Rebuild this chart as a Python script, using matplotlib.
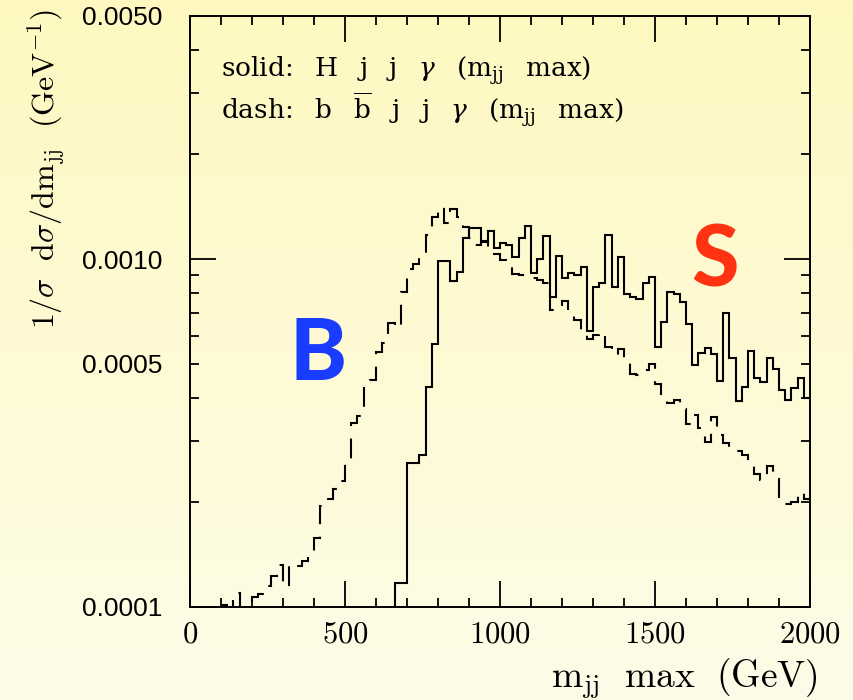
import numpy as np
import matplotlib
matplotlib.use('Agg')
import matplotlib.pyplot as plt
from matplotlib.ticker import FixedLocator, LogLocator, FuncFormatter, MultipleLocator
from matplotlib.colors import LinearSegmentedColormap

plt.rcParams['mathtext.fontset'] = 'cm'
plt.rcParams['font.family'] = ['Liberation Sans', 'DejaVu Sans']

# 20 GeV bins from 0 to 2000 GeV
edges = np.arange(0, 2001, 20)

# solid: H j j gamma  (1/sigma dsigma/dm_jj, GeV^-1), one value per bin
signal = [0] * 33 + [
    1.17e-4, 1.17e-4, 2.60e-4, 2.60e-4, 2.73e-4, 4.29e-4, 5.71e-4,
    9.89e-4, 9.89e-4, 8.66e-4, 9.21e-4, 1.149e-3, 1.23e-3, 1.23e-3, 1.124e-3, 1.207e-3, 1.08e-3,
    1.112e-3, 1.10e-3, 1.013e-3, 1.154e-3, 1.247e-3, 9.11e-4, 1.0e-3, 1.167e-3, 7.80e-4, 1.022e-3,
    8.85e-4, 9.11e-4, 9.01e-4, 9.52e-4, 6.21e-4, 8.34e-4, 8.53e-4, 1.17e-3, 8.34e-4, 1.011e-3,
    7.93e-4, 7.80e-4, 7.68e-4, 8.56e-4, 8.87e-4, 5.60e-4, 6.61e-4, 8.07e-4, 7.93e-4, 7.52e-4,
    6.49e-4, 4.96e-4, 5.36e-4, 5.56e-4, 5.32e-4, 4.46e-4, 7.01e-4, 5.19e-4, 3.90e-4, 4.29e-4,
    5.44e-4, 4.56e-4, 4.44e-4, 5.19e-4, 4.83e-4, 4.20e-4, 3.93e-4, 4.26e-4, 4.54e-4, 3.99e-4,
]

# dash: b bbar j j gamma
background = [0] * 5 + [
    1.01e-4, 9.0e-5, 1.10e-4, 9.0e-5, 9.5e-5, 1.07e-4, 1.09e-4, 1.15e-4, 1.23e-4, 1.32e-4,
    1.14e-4, 1.33e-4, 1.31e-4, 1.36e-4, 1.42e-4, 1.58e-4, 1.95e-4, 2.05e-4, 2.18e-4, 2.31e-4,
    2.67e-4, 3.38e-4, 3.55e-4, 4.25e-4, 4.49e-4, 5.42e-4, 5.73e-4, 6.54e-4, 6.33e-4, 8.04e-4,
    9.36e-4, 9.70e-4, 1.015e-3, 1.175e-3, 1.32e-3, 1.41e-3, 1.27e-3, 1.39e-3, 1.32e-3, 1.233e-3,
    1.15e-3, 1.10e-3, 1.12e-3, 1.07e-3, 1.034e-3, 9.95e-4, 9.58e-4, 9.05e-4, 9.0e-4, 8.9e-4,
    8.85e-4, 8.72e-4, 8.53e-4, 7.14e-4, 7.38e-4, 7.6e-4, 7.0e-4, 6.68e-4, 6.25e-4, 5.88e-4,
    6.05e-4, 6.18e-4, 5.6e-4, 5.3e-4, 5.53e-4, 5.07e-4, 4.69e-4, 4.64e-4, 4.8e-4, 4.98e-4,
    4.39e-4, 3.96e-4, 3.86e-4, 3.93e-4, 3.72e-4, 3.35e-4, 3.56e-4, 3.26e-4, 2.98e-4, 3.52e-4,
    3.12e-4, 2.96e-4, 2.87e-4, 2.80e-4, 2.73e-4, 2.59e-4, 2.41e-4, 2.32e-4, 2.54e-4, 2.33e-4,
    1.98e-4, 1.98e-4, 2.0e-4, 2.14e-4, 2.05e-4,
]

x_ticks = [0, 500, 1000, 1500, 2000]
y_major = [1e-4, 1e-3]
y_labels = {1e-4: '0.0001', 5e-4: '0.0005', 1e-3: '0.0010', 5e-3: '0.0050'}

fig = plt.figure(figsize=(8.54, 7.0), dpi=100)

# pale yellow gradient behind everything
bg = fig.add_axes([0, 0, 1, 1], zorder=-10)
grad = np.linspace(0, 1, 256).reshape(-1, 1)
cmap = LinearSegmentedColormap.from_list('bg', ['#fff8c0', '#fdfce8'])
bg.imshow(grad, aspect='auto', cmap=cmap, extent=[0, 1, 0, 1])
bg.axis('off')

ax = fig.add_axes([190 / 854, 93 / 700, 620 / 854, 591 / 700])
ax.patch.set_alpha(0)
ax.set_yscale('log', nonpositive='clip')

ax.stairs(signal, edges, baseline=None, color='black', lw=1.5)
ax.stairs(background, edges, baseline=None, color='black', lw=1.5,
          linestyle=(0, (9.5, 6)))

ax.set_xlim(0, 2000)
ax.set_ylim(1e-4, 5e-3)

ax.xaxis.set_major_locator(FixedLocator(x_ticks))
ax.xaxis.set_minor_locator(MultipleLocator(100))
ax.xaxis.set_major_formatter(FuncFormatter(lambda v, p: r'$\mathrm{%d}$' % v))

ax.yaxis.set_major_locator(FixedLocator(y_major))
ax.yaxis.set_minor_locator(LogLocator(base=10, subs=np.arange(2, 10)))


def ylab(v, p):
    for k, s in y_labels.items():
        if abs(v - k) / k < 1e-3:
            return s
    return ''


ax.yaxis.set_major_formatter(FuncFormatter(ylab))
ax.yaxis.set_minor_formatter(FuncFormatter(ylab))

ax.tick_params(which='major', direction='in', length=19, width=1.3,
               top=True, right=True)
ax.tick_params(which='minor', direction='in', length=6.5, width=1.3,
               top=True, right=True)
ax.tick_params(axis='x', labelsize=22, pad=9)
ax.tick_params(axis='y', which='both', labelsize=19, pad=20)
for s in ax.spines.values():
    s.set_linewidth(1.4)

fig.text(46 / 854, 1 - 169 / 700,
         r'$\mathrm{1/}\sigma\ \ \mathrm{d}\sigma\mathrm{/dm_{jj}}\ \ \mathrm{(GeV^{-1})}$',
         rotation=90, ha='center', va='center', fontsize=23)
fig.text(818 / 854, 13 / 700, r'$\mathrm{m_{jj}\ \ max\ \ (GeV)}$',
         ha='right', va='baseline', fontsize=27)

gap = '\u2002 '
solid_txt = gap.join(['solid:', 'H', 'j', 'j', r'$\gamma$', r'(m$_{\rm jj}$', 'max)'])
dash_txt = gap.join(['dash:', 'b', r'$\overline{\rm b}$', 'j', 'j', r'$\gamma$',
                     r'(m$_{\rm jj}$', 'max)'])
fig.text(221 / 854, 1 - 77 / 700, solid_txt,
         fontsize=19, family='DejaVu Serif', math_fontfamily='dejavuserif',
         va='baseline')
fig.text(221 / 854, 1 - 120 / 700, dash_txt,
         fontsize=19, family='DejaVu Serif', math_fontfamily='dejavuserif',
         va='baseline')

fig.text(318 / 854, 1 - 355 / 700, 'B', color='#1a3cff', fontsize=62,
         fontweight='black', family='Lato', ha='center', va='center')
fig.text(715 / 854, 1 - 262 / 700, 'S', color='#ff3311', fontsize=62,
         fontweight='black', family='Lato', ha='center', va='center')

fig.savefig('out.png', dpi=100)
